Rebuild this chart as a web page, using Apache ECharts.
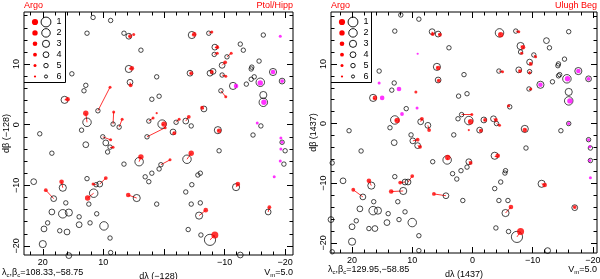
<!DOCTYPE html>
<html><head><meta charset="utf-8">
<script src="https://cdn.jsdelivr.net/npm/echarts@6/dist/echarts.min.js"></script>
<style>html,body{margin:0;padding:0;background:#fff}#c{width:600px;height:279px}</style>
</head><body><div id="c"></div>
<script>
// ---------- data ----------
const legendMags = [1, 2, 3, 4, 5, 6];
const yTicks = [-20, -10, 0, 10];
const yMinor = [-20,-18,-16,-14,-12,-10,-8,-6,-4,-2,0,2,4,6,8,10,12,14,16,18];
const xTicks = [-20, -10, 0, 10, 20];
const xMinor = [-20,-18,-16,-14,-12,-10,-8,-6,-4,-2,0,2,4,6,8,10,12,14,16,18,20,22];
const xLabelsLeft = [-20, -10, 10, 20];
const xLabelsRight = [-20, -10, 0, 10, 20];

// pairs: [x catalogue, y catalogue, x Argo, y Argo, magnitude]
const leftPairs = [
 [5.8,14.6,5.6,14.6,4],[5.8,9.2,5.3,9.3,3],[5.6,7.0,5.5,6.5,4],[10.9,2.3,8.9,6.2,5],
 [16.4,4.1,15.9,4.2,3],[12.7,0.4,12.9,1.9,2],[8.4,0.1,8.3,2.1,5],[7.4,-0.4,6.9,0.9,5],
 [2.5,0.6,1.8,1.1,5],[0.3,0.1,0.0,0.1,2],[-4.6,14.8,-5.0,14.9,3],[-7.4,15.1,-7.9,15.3,5],
 [-8.4,12.8,-8.8,12.8,4],[-8.3,11.6,-8.8,11.8,5],[-10.4,11.2,-11.1,11.8,5],[-9.6,9.8,-10.1,10.3,4],
 [-8.1,8.8,-7.9,8.7,4],[-4.3,8.5,-4.5,8.5,4],[-9.6,8.2,-10.2,8.0,5],[-9.4,5.6,-10.2,4.6,5],
 [-6.6,2.6,-6.3,2.8,4],[-2.0,0.4,-2.5,0.9,5],[-3.6,0.6,-4.1,1.3,4],[-1.5,-1.2,-1.7,-1.4,4],
 [-8.9,-0.9,-9.1,-1.0,3],[10.1,-2.0,8.8,-2.5,5],[8.9,-3.7,8.4,-3.7,5],[2.8,-2.0,-0.2,-0.5,5],
 [4.1,-6.1,3.8,-5.3,2],[16.7,-10.4,16.9,-9.4,3],[18.2,-12.2,19.5,-10.8,4],[10.6,-9.8,9.6,-8.8,4],
 [11.2,-9.9,11.7,-9.8,5],[11.6,-11.3,12.6,-12.1,2],[4.5,-12.1,5.9,-11.6,3],[0.5,-6.6,-1.0,-5.8,5],
 [-3.8,-5.7,-4.5,-4.7,2],[-11.9,-10.3,-12.2,-9.8,3],[-5.8,-15.0,-6.9,-14.1,3],[-17.2,-14.4,-17.4,-13.6,4],
 [-7.6,-19.0,-8.4,-18.2,0]
];
const leftMagenta = [
 [null,null,-19.2,14.6,5],[-18.0,8.7,-18.0,8.7,3],[-19.5,7.2,-19.5,7.2,4],[-15.9,7.0,-15.9,6.9,2],
 [-11.4,6.4,-11.9,6.4,3],[-16.4,3.7,-16.5,3.7,2],[-16.0,-0.2,-15.4,0.3,5],[null,null,-19.3,-2.2,5],
 [-19.5,-2.9,-19.5,-2.9,5],[-20.0,-4.3,-19.3,-4.0,5],[-19.8,-6.5,-19.2,-6.0,5],[null,null,-18.2,-8.6,5]
];
const leftOpen = [
 [11.7,17.7,5],[8.8,17.2,5],[12.7,15.1,5],[6.6,15.1,5],[3.8,12.3,5],[15.2,8.4,5],[1.2,7.9,5],
 [12.9,6.5,5],[13.2,5.6,5],[2.0,4.2,5],[0.8,4.7,5],[13.6,-0.9,5],[20.5,-1.5,5],
 [-16.4,14.8,5],[-12.6,13.3,5],[-13.1,12.3,5],[-15.7,10.5,5],[-14.5,9.5,5],[-14.4,9.2,5],
 [-14.4,7.5,5],[-14.9,7.9,5],[-13.6,6.7,5],[-16.4,4.9,3],[-4.5,-0.2,5],[-14.7,-1.7,5],[-7.6,8.5,4],
 [9.6,-3.0,4],[9.3,-4.5,5],[12.9,-3.3,4],[18.5,-4.7,5],[6.6,-6.5,5],[21.5,-9.4,4],[12.7,-8.9,5],
 [16.2,-12.9,5],[18.5,-14.4,4],[16.7,-14.7,2],[15.7,-14.5,3],[12.4,-13.1,5],[14.0,-15.2,5],
 [11.1,-14.7,5],[1.2,-13.1,5],[19.2,-16.2,5],[17.2,-17.5,5],[16.0,-17.7,4],[14.0,-16.5,4],
 [12.2,-16.2,5],[9.9,-16.7,2],[19.8,-17.2,4],[8.9,-18.7,5],[20.0,-19.7,3],[8.8,-21.1,5],[15.7,-21.6,4],
 [3.1,-8.6,5],[2.5,-9.4,5],[2.0,-8.0,5],[0.8,-7.3,5],[-9.1,-4.3,5],[-5.6,-8.3,5],[-6.0,-8.0,5],
 [-4.6,-9.9,5],[-3.6,-11.1,5],[-4.5,-13.1,5],[-6.0,-12.9,5],[-4.0,-17.3,5],[-6.1,-18.2,5],[-12.6,-21.5,4]
];
const leftRed = [[5.0,14.9,5],[1.2,1.9,6]];

const rightPairs = [
 [6.7,15.4,6.6,15.0,4],[5.7,15.0,5.4,14.9,4],[5.9,9.5,5.7,9.3,3],[5.7,7.3,5.6,7.2,4],
 [16.5,4.3,16.2,4.3,3],[12.9,0.6,12.5,0.5,2],[8.6,0.3,8.4,0.8,4],[7.4,-0.3,7.2,-1.1,4],
 [1.8,1.5,0.1,1.5,5],[0.6,0.5,0.3,0.3,2],[-1.9,0.6,-2.1,0.6,4],[-3.5,0.8,-3.9,0.6,4],
 [-4.0,0.0,-4.5,-0.3,5],[-1.2,-1.1,-1.4,-1.2,4],[-8.7,-0.9,-8.7,-1.1,3],[-4.5,15.2,-4.7,14.9,2],
 [-7.2,15.5,-7.7,15.4,5],[-8.0,13.0,-8.4,12.8,3],[-8.0,12.0,-8.2,11.8,5],[-10.2,11.5,-10.5,11.2,5],
 [-9.5,10.3,-9.7,10.0,4],[-4.4,8.8,-5.0,8.7,5],[-7.7,9.0,-7.9,8.8,4],[-9.5,8.7,-9.5,8.5,5],
 [-9.4,5.8,-9.7,5.8,5],[-6.2,2.8,-6.0,3.0,5],[9.9,-2.9,9.1,-2.7,4],[9.1,-3.7,8.7,-3.9,4],
 [4.2,-6.1,4.1,-5.7,2],[16.8,-10.4,17.2,-9.6,3],[18.2,-12.3,19.8,-11.1,4],[10.7,-9.8,10.0,-8.8,4],
 [11.2,-9.8,12.0,-9.9,4],[11.5,-11.3,13.5,-11.4,3],[4.4,-12.1,6.4,-11.8,4],[0.6,-6.4,0.3,-6.6,4],
 [-3.7,-5.4,-4.2,-5.4,3],[-11.5,-10.1,-12.0,-10.3,3],[-5.5,-15.0,-6.4,-14.0,3],[-17.0,-14.1,-17.0,-14.0,4],
 [-7.4,-19.0,-8.0,-18.1,0]
];
const rightMagenta = [
 [null,null,9.1,11.7,6],[null,null,15.5,6.8,5],[null,null,12.2,5.8,3],[null,null,15.0,4.3,3],
 [null,null,9.2,2.6,5],[null,null,11.7,1.6,4],[-17.6,8.8,-17.6,8.8,3],[-19.3,7.5,-19.3,7.5,4],
 [-15.7,7.5,-15.8,7.5,2],[-11.3,6.5,-11.3,6.5,3],[-16.0,3.8,-16.2,3.8,2],[-16.0,0.0,-16.0,0.0,5],
 [-19.3,-2.7,-19.3,-2.7,5],[-19.6,-4.1,-19.5,-3.9,5],[-19.6,-6.2,-19.5,-6.2,5],[null,null,-19.6,-9.1,5]
];
const rightOpen = [
 [11.9,18.2,5],[8.9,17.5,5],[12.9,15.5,5],[3.9,12.7,5],[15.5,8.8,5],[1.4,8.2,5],[13.0,6.8,5],
 [13.4,5.6,5],[2.3,4.6,5],[11.0,2.5,5],[13.7,-0.7,5],[20.5,-1.2,5],[2.4,0.8,5],
 [-16.0,15.4,5],[-12.3,13.9,4],[-12.8,12.7,5],[-15.3,10.8,5],[-14.3,10.0,5],[-14.2,9.7,5],
 [-14.3,8.0,5],[-14.5,8.2,5],[-13.3,7.0,5],[-16.0,5.3,3],[0.9,5.0,5],[-14.7,-1.2,5],
 [10.2,-1.9,5],[13.0,-3.2,4],[3.1,-1.9,5],[18.5,-4.6,5],[23.3,-6.6,5],[6.6,-6.4,5],[1.9,-7.9,5],
 [3.3,-8.4,5],[2.6,-9.3,5],[21.5,-9.6,4],[12.9,-8.9,5],[16.4,-13.1,5],[18.7,-14.3,4],[16.5,-14.6,2],
 [15.7,-14.6,3],[12.4,-13.1,5],[14.0,-15.1,5],[11.2,-14.8,5],[23.5,-16.1,4],[19.3,-16.3,5],
 [20.0,-17.3,4],[17.2,-17.6,5],[16.2,-17.6,4],[14.2,-16.6,4],[12.2,-16.1,5],[10.0,-16.6,2],
 [1.6,-12.9,5],[20.0,-19.8,3],[8.9,-18.8,5],[8.9,-21.3,5],[23.3,-21.5,5],
 [-8.9,-4.1,5],[0.9,-7.3,5],[-5.5,-7.9,5],[-5.4,-8.3,5],[-4.7,-9.8,5],[-3.7,-10.9,5],
 [-4.4,-12.9,5],[-5.9,-12.9,5],[-3.9,-17.5,5],[-6.0,-18.1,5],[-12.5,-21.3,4]
];
const rightRed = [[9.4,5.3,5],[0.6,-1.1,6]];

// ---------- chart ----------
const FONT = "'Liberation Sans', Arial, sans-serif";
const sizeOpen = m => 11.2 - 1.35 * m;
const sizeDot = m => 7 - 0.8 * m;
const fmt = v => (v < 0 ? '\u2212' + Math.abs(v) : String(v));

const panels = [
  {grid:{left:24, top:12, width:269, height:243}, x:[-21.3, 23.1], y:[-21.5, 18.6],
   xLabels:xLabelsLeft, xName:'d\u03bb (\u2212128)', yName:'d\u03b2 (\u2212128)',
   pairs:leftPairs, open:leftOpen, red:leftRed, mag:leftMagenta,
   tl:'Argo', tr:'Ptol/Hipp', bl:'108.33,\u221258.75', by:273},
  {grid:{left:331, top:12, width:266, height:241}, x:[-20.7, 23.5], y:[-21.7, 18.7],
   xLabels:xLabelsRight, xName:'d\u03bb (1437)', yName:'d\u03b2 (1437)',
   pairs:rightPairs, open:rightOpen, red:rightRed, mag:rightMagenta,
   tl:'Argo', tr:'Ulugh Beg', bl:'129.95,\u221258.85', by:270}
];

const grids = [], xAxes = [], yAxes = [], series = [], graphic = [];
const black = '#000';

panels.forEach((p, gi) => {
  grids.push(Object.assign({show:true, borderColor:black, borderWidth:1, backgroundColor:'#fff',
    containLabel:false, outerBoundsMode:'none'}, p.grid));
  const baseX = {type:'value', gridIndex:gi, min:p.x[0], max:p.x[1], inverse:true,
    axisLine:{show:false, onZero:false}, splitLine:{show:false}};
  const baseY = {type:'value', gridIndex:gi, min:p.y[0], max:p.y[1],
    axisLine:{show:false, onZero:false}, splitLine:{show:false}};
  const major = vals => ({show:true, inside:true, length:6, customValues:vals, lineStyle:{color:black, width:1}});
  const minor = vals => ({show:true, inside:true, length:3.5, customValues:vals, lineStyle:{color:black, width:1}});
  xAxes.push(Object.assign({}, baseX, {position:'bottom', axisTick:major(xTicks),
    axisLabel:{customValues:p.xLabels, formatter:fmt, fontSize:9, margin:3, color:black, fontFamily:FONT},
    name:p.xName, nameLocation:'middle', nameGap:13,
    nameTextStyle:{fontSize:9, color:black, fontFamily:FONT}}));
  xAxes.push(Object.assign({}, baseX, {position:'bottom', axisTick:minor(xMinor), axisLabel:{show:false}}));
  xAxes.push(Object.assign({}, baseX, {position:'top', axisTick:major(xTicks), axisLabel:{show:false}}));
  xAxes.push(Object.assign({}, baseX, {position:'top', axisTick:minor(xMinor), axisLabel:{show:false}}));
  yAxes.push(Object.assign({}, baseY, {position:'left', axisTick:major(yTicks),
    axisLabel:{customValues:yTicks, formatter:fmt, fontSize:9, margin:3, rotate:90, color:black, fontFamily:FONT},
    name:p.yName, nameLocation:'middle', nameGap:12,
    nameTextStyle:{fontSize:9, color:black, fontFamily:FONT}}));
  yAxes.push(Object.assign({}, baseY, {position:'left', axisTick:minor(yMinor), axisLabel:{show:false}}));
  yAxes.push(Object.assign({}, baseY, {position:'right', axisTick:major(yTicks), axisLabel:{show:false}}));
  yAxes.push(Object.assign({}, baseY, {position:'right', axisTick:minor(yMinor), axisLabel:{show:false}}));

  const ax = {xAxisIndex: gi * 4, yAxisIndex: gi * 4};
  const circles = p.pairs.map(d => [d[0], d[1], d[4]])
    .concat(p.open)
    .concat(p.mag.filter(d => d[0] !== null).map(d => [d[0], d[1], d[4]]));
  const reds = p.pairs.map(d => [d[2], d[3], d[4]]).concat(p.red);
  const mags = p.mag.map(d => [d[2], d[3], d[4]]);
  const links = p.pairs.map(d => ({coords:[[d[0], d[1]], [d[2], d[3]]]}));
  series.push({type:'lines', coordinateSystem:'cartesian2d', ...ax, data:links, silent:true, z:1,
    lineStyle:{color:'#f00', width:0.8, opacity:1}});
  series.push({type:'scatter', ...ax, data:circles, silent:true, clip:false, z:2,
    symbolSize:d => sizeOpen(d[2]),
    itemStyle:{color:'rgba(0,0,0,0)', borderColor:black, borderWidth:0.9}});
  series.push({type:'scatter', ...ax, data:reds, silent:true, clip:false, z:3,
    symbolSize:d => sizeDot(d[2]), itemStyle:{color:'#f00'}});
  series.push({type:'scatter', ...ax, data:mags, silent:true, clip:false, z:3,
    symbolSize:d => sizeDot(d[2]), itemStyle:{color:'#f0f'}});

  // texts
  const L = p.grid.left, R = p.grid.left + p.grid.width, T = p.grid.top;
  graphic.push({type:'text', x:L, y:1, style:{text:p.tl, fill:'#f00', fontSize:9, fontFamily:FONT}});
  graphic.push({type:'text', x:R, y:1, style:{text:p.tr, fill:'#f00', fontSize:9, fontFamily:FONT, align:'right'}});
  const rich = {n:{fontSize:9, fontFamily:FONT, fill:black}, s:{fontSize:6, fontFamily:FONT, fill:black, padding:[5,0,0,0]}};
  graphic.push({type:'text', x: gi === 0 ? 2 : L - 3, y:p.by, style:{
    text:'{n|\u03bb}{s|c}{n|,\u03b2}{s|c}{n|=' + p.bl + '}', rich:rich, verticalAlign:'middle'}});
  graphic.push({type:'text', x:R, y:p.by, style:{
    text:'{n|V}{s|m}{n|=5.0}', rich:rich, align:'right', verticalAlign:'middle'}});

  // legend box
  const bw = gi === 0 ? 41 : 40;
  graphic.push({type:'polyline', z:10, shape:{points:[[L, 82.5], [L + bw + 0.5, 82.5], [L + bw + 0.5, T]]},
    style:{stroke:black, lineWidth:1, fill:null}});
  legendMags.forEach((m, i) => {
    const yy = 22 + i * 10.9;
    graphic.push({type:'circle', z:10, shape:{cx:L + 11, cy:yy, r:sizeDot(m) / 2}, style:{fill:'#f00'}});
    graphic.push({type:'circle', z:10, shape:{cx:L + 22, cy:yy, r:sizeOpen(m) / 2},
      style:{fill:null, stroke:black, lineWidth:0.9}});
    graphic.push({type:'text', z:10, x:L + 35, y:yy, style:{text:String(m), fill:black, fontSize:9,
      fontFamily:FONT, verticalAlign:'middle', align:'center'}});
  });
});

const chart = echarts.init(document.getElementById('c'), null, {renderer:'canvas'});
chart.setOption({animation:false, backgroundColor:'#fff', grid:grids, xAxis:xAxes, yAxis:yAxes,
  series:series, graphic:graphic});
</script></body></html>
